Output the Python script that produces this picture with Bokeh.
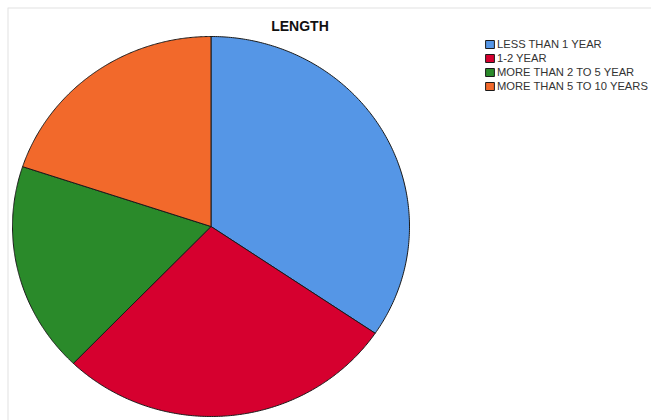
import numpy as np
from bokeh.plotting import figure
from bokeh.models import Legend, LegendItem, ColumnDataSource, Range1d, Span
from bokeh.core.properties import value
from bokeh.embed import file_html
from bokeh.resources import INLINE

categories = ["LESS THAN 1 YEAR", "1-2 YEAR", "MORE THAN 2 TO 5 YEAR", "MORE THAN 5 TO 10 YEARS"]
shares = [34.5, 27.7, 17.9, 19.9]
colors = ["#5596e6", "#d6002f", "#2a8a2a", "#f2692b"]
title_text = "LENGTH"

W, H = 651, 420
xr = Range1d(-(210.5 - 7) / 198.5, (651 - 210.5) / 198.5)
yr = Range1d(-(420 - 226) / 190.0, (226 - 7) / 190.0)
p = figure(width=W, height=H, output_backend="svg", toolbar_location=None,
           min_border_left=7, min_border_top=7, min_border_right=0, min_border_bottom=0,
           x_range=xr, y_range=yr)
p.axis.visible = False
p.grid.visible = False
p.outline_line_color = None
p.background_fill_color = "white"
p.border_fill_color = "white"

p.add_layout(Span(location=yr.end, dimension="width", line_color="#e2e2e2", line_width=2))
p.add_layout(Span(location=xr.start, dimension="height", line_color="#e2e2e2", line_width=2))

total = float(sum(shares))
cum = np.concatenate([[0.0], np.cumsum(shares) / total])
items = []
for i, cat in enumerate(categories):
    a0 = np.pi / 2 - 2 * np.pi * cum[i]
    a1 = np.pi / 2 - 2 * np.pi * cum[i + 1]
    t = np.linspace(a0, a1, 200)
    xs = np.concatenate([[0.0], np.cos(t), [0.0]])
    ys = np.concatenate([[0.0], np.sin(t), [0.0]])
    r = p.patch(xs, ys, fill_color=colors[i], line_color="#1a1a1a", line_width=1)
    items.append(LegendItem(label=cat, renderers=[r]))

src = ColumnDataSource(dict(x=[(299.5 - 210.5) / 198.5], y=[(226 - 25) / 190.0], t=[title_text]))
p.text(x="x", y="y", text="t", source=src, text_font=value("Liberation Sans"),
       text_font_style="bold", text_font_size="14px", text_align="center",
       text_baseline="alphabetic", text_color="#111111")

legend = Legend(items=items, location=(477, 328), orientation="vertical")
legend.label_text_font = "Liberation Sans"
legend.label_text_font_size = "11.2px"
legend.label_text_color = "#333333"
legend.glyph_width = 11
legend.glyph_height = 10
legend.label_height = 11
legend.label_standoff = 2
legend.spacing = 2
legend.padding = 0
legend.margin = 0
legend.border_line_color = None
legend.background_fill_alpha = 0
p.add_layout(legend)

open("out.html", "w").write(file_html(p, INLINE))
